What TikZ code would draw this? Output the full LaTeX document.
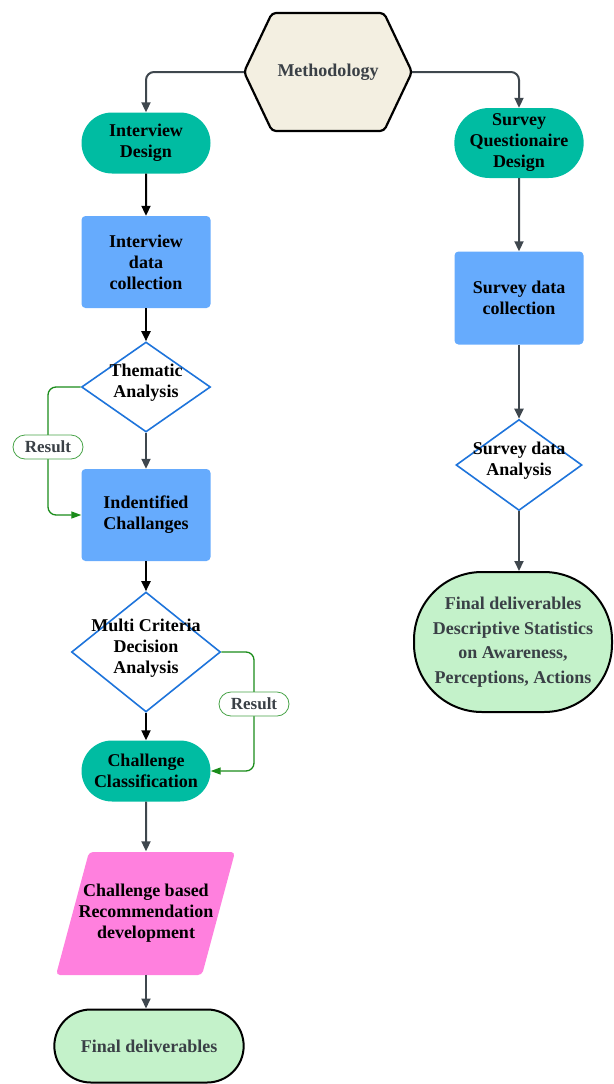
\documentclass[tikz,border=0pt]{standalone}
\usepackage{fontspec}
\setmainfont{Liberation Serif}
\usetikzlibrary{shapes.geometric,shapes.misc,arrows.meta}
\definecolor{teal1}{HTML}{00BCA2}
\definecolor{blue1}{HTML}{66ABFD}
\definecolor{dblue}{HTML}{1E74DB}
\definecolor{pink1}{HTML}{FF80DE}
\definecolor{lgreen}{HTML}{C4F2CA}
\definecolor{cream}{HTML}{F3EFE1}
\definecolor{dgray}{HTML}{3F474E}
\definecolor{gline}{HTML}{1A8C1A}
\definecolor{txtgray}{HTML}{3A4046}
\begin{document}
\begin{tikzpicture}[x=1pt,y=-1pt,
  font=\fontsize{18}{21}\selectfont\bfseries,
  term/.style={rounded rectangle, fill=teal1, minimum width=129pt, minimum height=61pt, inner sep=0pt, align=center},
  proc/.style={rectangle, rounded corners=4pt, fill=blue1, minimum width=129pt, minimum height=92pt, inner sep=0pt, align=center},
  dec/.style={diamond, draw=dblue, line width=1.6pt, fill=white, inner sep=0pt},
  lbl/.style={align=center, inner sep=0pt},
  arr/.style={draw=dgray, line width=2pt, -{Triangle[length=10pt,width=9pt]}},
  barr/.style={arr, draw=black},
  garr/.style={draw=gline, line width=1.3pt, rounded corners=8pt, -{Triangle[length=10pt,width=7pt]}},
  res/.style={rounded rectangle, draw=gline!80, fill=white, line width=0.8pt, minimum width=74pt, minimum height=24pt, inner sep=2pt, text=txtgray, font=\fontsize{17}{18}\selectfont\bfseries}
]
\useasboundingbox (0,0) rectangle (613,1084);
% Methodology hexagon
\draw[fill=cream, line width=2.2pt, rounded corners=4pt] (244,72) -- (272,13) -- (384,13) -- (412,72) -- (384,131) -- (272,131) -- cycle;
\node (meth) at (328,72) [minimum width=168pt, minimum height=118pt, inner sep=0pt, text=txtgray] {\raisebox{2pt}{Methodology}};

% left column
\node (idesign) at (146,143) [term] {Interview\\Design};
\node (idata) at (146,262) [proc] {Interview\\data\\collection};
\node (ta) at (146,387) [dec, minimum width=129pt, minimum height=90pt] {};
\node[lbl, yshift=4pt] (talbl) at (ta) {Thematic\\Analysis};
\node (ichal) at (146,515) [proc] {Indentified\\Challanges};
\node (mcda) at (146,652) [dec, minimum width=149pt, minimum height=120pt] {};
\node[lbl, yshift=4pt] (mcdalbl) at (mcda) {Multi Criteria\\Decision\\Analysis};
\node (cclass) at (146,771) [term] {Challenge\\Classification};
\fill[pink1, rounded corners=4pt] (89,852) -- (235,852) -- (202,975) -- (56,975) -- cycle;
\node (cbr) at (146,913) [minimum width=179pt, minimum height=123pt, inner sep=0pt, align=center] {Challenge based\\Recommendation\\development};
\node (fin) at (149,1046) [rounded rectangle, draw=black, line width=2pt, fill=lgreen, minimum width=196pt, minimum height=73pt, text=txtgray] {Final deliverables};

% right column
\node (sqd) at (519,143) [term, minimum width=127pt, minimum height=70pt] {Survey\\Questionaire\\Design};
\node (sdata) at (519,298) [proc, minimum height=93pt] {Survey data\\collection};
\node (sda) at (519,465) [dec, minimum width=126pt, minimum height=91pt] {};
\node[lbl, yshift=4pt] (sdalbl) at (sda) {Survey data\\Analysis};
\node (sfin) at (513,642) [rectangle, rounded corners=68pt, draw=black, line width=2pt, fill=lgreen, minimum width=198pt, minimum height=140pt, inner sep=0pt, align=center, text=txtgray, font=\fontsize{18}{24.5}\selectfont\bfseries] {Final deliverables\\Descriptive Statistics\\on Awareness,\\Perceptions, Actions};

% connectors
\draw[arr, rounded corners=8pt] (meth.west) -| (idesign.north);
\draw[arr, rounded corners=8pt] (meth.east) -| (sqd.north);
\draw[barr] (idesign) -- (idata);
\draw[barr] (idata) -- (ta);
\draw[arr] (ta) -- (ichal);
\draw[barr] (ichal) -- (mcda);
\draw[barr] (mcda) -- (cclass);
\draw[arr] (cclass) -- (cbr.north);
\draw[arr] (cbr.south) -- (cbr.south |- fin.north);
\draw[arr] (sqd) -- (sdata);
\draw[arr] (sdata) -- (sda);
\draw[arr] (sda.south) -- (sda.south |- sfin.north);

% result loops
\draw[garr] (ta.west) -- (48,387) -- (48,515) -- (ichal.west);
\node[res] (r1) at (48,447) {Result};
\draw[garr] (mcda.east) -- (254,652) -- (254,771) -- (cclass.east);
\node[res] (r2) at (254,704) {Result};
\end{tikzpicture}
\end{document}
